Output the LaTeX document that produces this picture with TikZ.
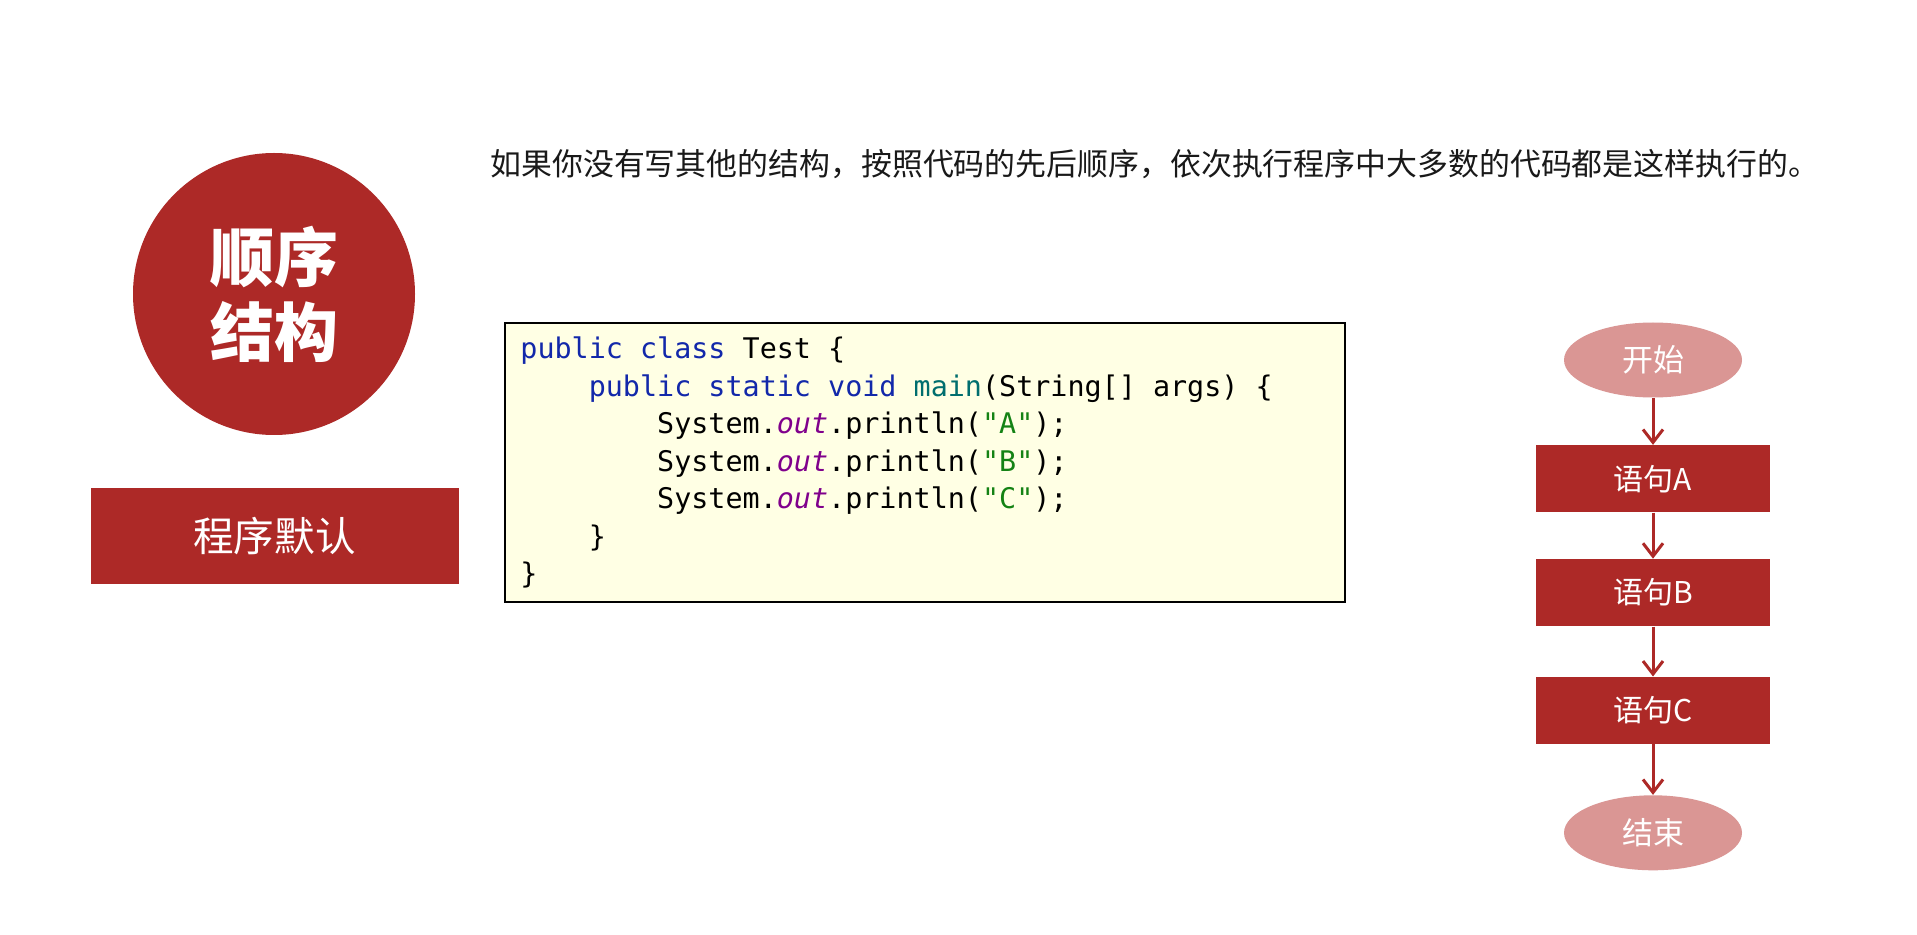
\documentclass[tikz,border=0pt]{standalone}
\usepackage{fontspec}
\setmainfont{Noto Sans CJK SC}
\newfontfamily\codefont{DejaVu Sans Mono}
\usetikzlibrary{positioning}
\usetikzlibrary{shapes.geometric}
\usetikzlibrary{arrows.meta}
\definecolor{seqred}{RGB}{173,41,39}
\definecolor{seqpink}{RGB}{218,150,148}
\definecolor{codebg}{RGB}{255,255,228}
\definecolor{codekw}{RGB}{18,40,170}
\definecolor{codefn}{RGB}{0,110,110}
\definecolor{codefld}{RGB}{128,0,140}
\definecolor{codestr}{RGB}{20,130,20}
\newcommand\jkw[1]{\textcolor{codekw}{#1}}
\newcommand\jfn[1]{\textcolor{codefn}{#1}}
\newcommand\jfield[1]{\textcolor{codefld}{\itshape #1}}
\newcommand\jstr[1]{\textcolor{codestr}{#1}}
\newcommand\jind{\phantom{0000}}
\tikzset{stmt/.style = {rectangle, fill=seqred, text=white, inner sep=0pt,
                        minimum width=117pt, minimum height=33.5pt,
                        font=\fontsize{15}{18}\selectfont},
         term/.style = {ellipse, fill=seqpink, text=white, inner sep=0pt,
                        minimum width=89pt, minimum height=37.5pt,
                        font=\fontsize{15.5}{18}\selectfont},
         flow/.style = {draw=seqred, line width=1.5pt,
                        -{Straight Barb[length=6.5pt, width=10pt]}},
         codeline/.style = {anchor=base west, inner sep=0pt,
                            font=\codefont\fontsize{14.2}{18}\selectfont}}

\begin{document}
\begin{tikzpicture}[x=0.5pt, y=-0.5pt]
      \useasboundingbox [fill=white] (0, 0) rectangle (1917, 935);

      % left side
      \node (title) [circle, fill=seqred, text=white, minimum size=141pt, inner sep=0pt,
                     align=center, font=\fontsize{32}{37.5}\selectfont\bfseries] at (274, 294) {顺序\\结构};
      \node (kind) [rectangle, fill=seqred, text=white, minimum width=184pt, minimum height=48pt,
                    font=\fontsize{20.3}{24}\selectfont] at (274.5, 536) {程序默认};

      \node (intro) [anchor=west, inner sep=0pt, text=black!90, font=\fontsize{15.45}{18}\selectfont]
            at (490, 164) {如果你没有写其他的结构，按照代码的先后顺序，依次执行程序中大多数的代码都是这样执行的。};

      % code
      \node (code) [draw=black, line width=1pt, fill=codebg, anchor=north west, inner sep=0pt,
                    minimum width=420pt, minimum height=139.5pt] at (504, 322) {};
      \node (l1) [codeline] at (520, 359) {\jkw{public class} Test \{};
      \node (l2) [codeline] at (520, 396.4) {\jind\jkw{public static void} \jfn{main}(String[] args) \{};
      \node (l3) [codeline] at (520, 433.8) {\jind\jind System.\jfield{out}.println(\jstr{"A"});};
      \node (l4) [codeline] at (520, 471.2) {\jind\jind System.\jfield{out}.println(\jstr{"B"});};
      \node (l5) [codeline] at (520, 508.6) {\jind\jind System.\jfield{out}.println(\jstr{"C"});};
      \node (l6) [codeline] at (520, 546) {\jind\}};
      \node (l7) [codeline] at (520, 583.4) {\}};

      % flow chart
      \node (start) [term] at (1653, 360) {开始};
      \node (sa) [stmt, below=23.5pt of start] {语句A};
      \node (sb) [stmt, below=23pt of sa] {语句B};
      \node (sc) [stmt, below=25pt of sb] {语句C};
      \node (stop) [term, below=25.3pt of sc] {结束};

      \draw [flow] (start) -- (sa);
      \draw [flow] (sa) -- (sb);
      \draw [flow] (sb) -- (sc);
      \draw [flow] (sc) -- (stop);
    \end{tikzpicture}
\end{document}
